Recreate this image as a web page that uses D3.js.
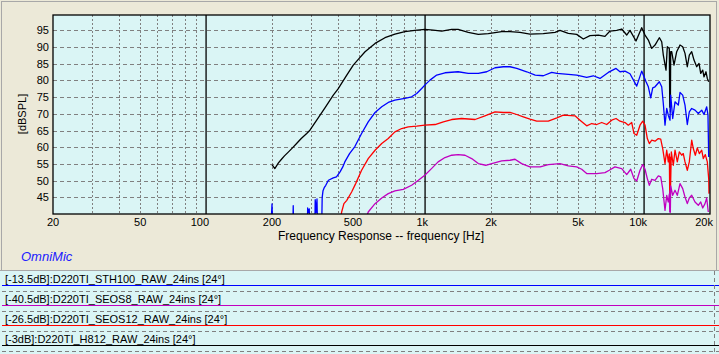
<!DOCTYPE html>
<html>
<head>
<meta charset="utf-8">
<script src="https://cdn.jsdelivr.net/npm/d3@7"></script>
<style>
  body { margin: 0; background: #ECE9D8; }
  svg { display: block; font-family: "Liberation Sans", Arial, sans-serif; }
  .tick-label { font-size: 11px; fill: #000; }
  .legend-text { font-size: 11px; fill: #000; }
</style>
</head>
<body>
<div id="chart"></div>
<script>

  // frequency response data, [Hz, dBSPL]
  var h812 = [
    [200,54.8],[206,53.6],[214,55.3],[221,56.4],[228,57.4],[238,58.6],[248,59.8],[259,61.1],[272,62.6],[288,64.1],
    [298,65.1],[320,68.1],[349,71.8],[381,75.6],[400,77.4],[439,81.6],[470,84.6],[500,86.6],[532,88.6],[591,91.1],
    [656,92.8],[728,93.9],[809,94.6],[898,95.0],[997,95.3],[1090,95.1],[1191,94.8],[1323,95.3],[1415,95.3],[1575,94.4],
    [1750,93.8],[1944,94.0],[2238,94.6],[2443,94.6],[2713,94.4],[3013,93.9],[3466,94.0],[3920,94.4],[4130,95.0],[4508,94.1],
    [4925,93.8],[5279,92.4],[5662,93.4],[6181,93.6],[6630,93.2],[6988,94.8],[7499,95.0],[7904,95.4],[8331,93.6],[8624,95.0],
    [9188,91.8],[9754,95.8],[10100,93.6],[10458,92.1],[10838,89.6],[11220,90.6],[11738,92.8],[12038,91.6],[12242,87.6],[12594,83.1],
    [12766,90.1],[13040,89.6],[13100,72],[13136,88],[13180,70.6],[13230,88.6],[13372,88.6],[13698,84.6],[14092,88.6],[14592,90.6],
    [15010,90.1],[15378,88.1],[15754,84.1],[16090,87.6],[16500,88.6],[16904,86.1],[17392,84.1],[17820,85.1],[18140,82.1],[18526,83.1],
    [18780,81.1],[19176,82.6],[19442,80.6],[19728,79.6]
  ];

  var sth100 = [
    [196,30],[200,43],[203,30],[248,30],[250,42.5],[252,30],[289,30],[291,41.8],[293,40.5],[296,41.5],
    [298,30],[313,30],[315,44.3],[318,40.5],[321,44.5],[324,30],[336,30],[339,45],[342,47],[347,48],
    [352,48.6],[362,50.1],[381,50.8],[394,51.1],[409,52.6],[421,54.1],[430,55.6],[452,58.1],[478,60.2],[513,64.1],
    [550,67.6],[591,70.4],[634,72.1],[679,73.4],[728,74.1],[809,74.6],[868,75.1],[916,76.1],[965,77.6],[997,78.6],
    [1053,80.1],[1130,81.6],[1233,82.3],[1415,82.6],[1575,82.1],[1750,82.1],[1912,82.6],[2087,83.8],[2277,84.1],[2443,84.1],
    [2622,83.6],[2911,82.6],[3184,81.6],[3466,81.4],[3786,82.4],[4000,82.1],[4508,81.8],[4925,81.6],[5470,80.9],[5860,81.4],
    [6290,80.6],[6864,82.4],[7446,83.6],[7764,82.6],[8184,82.8],[8624,82.0],[9256,78.3],[9754,82.8],[10208,79.6],[10458,78.1],
    [10724,74.8],[10952,77.8],[11220,78.1],[11738,79.6],[12038,78.1],[12242,73.1],[12462,66.6],[12688,71.6],[12902,69.6],[13136,68.1],
    [13230,75.6],[13512,68.6],[13844,73.6],[14334,72.6],[14592,76.4],[15010,75.6],[15378,72.6],[15754,66.8],[16090,70.6],[16500,71.6],
    [17084,71.1],[17688,70.1],[18332,71.1],[18780,69.8],[19318,72.1],[19580,69.6],[19728,57.1]
  ];

  var seos12 = [
    [405,36],[416,40.6],[426,43.1],[439,44.1],[462,46.6],[482,49.1],[513,53.1],[550,56.6],[591,59.1],[634,61.1],
    [679,62.6],[728,64.6],[782,65.6],[838,66.1],[916,66.3],[997,66.6],[1111,66.8],[1212,67.6],[1323,68.3],[1468,68.6],
    [1691,68.3],[1876,69.4],[2087,70.6],[2277,70.4],[2443,70.4],[2622,69.8],[2810,69.1],[3013,68.4],[3234,67.8],[3652,67.8],
    [4000,68.8],[4276,69.6],[4838,69.4],[5098,68.1],[5470,66.4],[5768,67.1],[6078,66.8],[6406,67.4],[6752,66.8],[7116,68.1],
    [7446,68.6],[7764,67.8],[8184,67.4],[8472,66.6],[8782,67.4],[8996,64.1],[9256,63.6],[9582,66.6],[9858,67.8],[10100,66.6],
    [10348,62.6],[10568,61.1],[10838,62.1],[11220,61.8],[11616,62.6],[11912,62.4],[12164,59.6],[12462,55.1],[12688,59.1],[12902,55.6],
    [13040,58],[13100,44.6],[13136,57],[13180,45],[13316,58.6],[13598,54.6],[13844,59.1],[14184,55.6],[14484,58.6],[14856,57.6],
    [15100,58.1],[15378,55.6],[15754,53.1],[16090,55.6],[16500,62.1],[16780,59.6],[17138,57.6],[17500,59.8],[17874,58.1],[18332,59.1],
    [18642,56.6],[19036,57.8],[19442,55.6],[19728,50.6],[19790,46.1]
  ];

  var seos8 = [
    [535,38],[550,40.6],[591,43.1],[634,44.8],[679,46.1],[728,46.9],[795,47.4],[868,48.6],[932,50.1],[997,51.6],
    [1070,53.6],[1147,55.6],[1233,56.9],[1323,57.6],[1415,57.8],[1522,57.6],[1632,56.6],[1750,55.1],[1893,54.6],[2016,55.1],
    [2238,55.9],[2443,56.1],[2575,56.4],[2760,55.1],[3013,54.1],[3355,54.1],[3652,54.8],[4130,55.1],[4508,54.4],[4925,54.1],
    [5190,53.4],[5470,52.1],[6078,52.1],[6630,52.4],[6935,53.1],[7360,54.1],[7904,53.6],[8332,51.8],[8690,53.4],[8996,50.6],
    [9256,49.9],[9582,53.1],[9858,54.8],[10100,53.4],[10348,50.6],[10568,48.6],[10838,50.4],[11220,50.1],[11616,51.4],[11912,51.1],
    [12164,47.6],[12462,41.1],[12688,45.6],[12902,43.6],[13040,46],[13100,40.6],[13136,47],[13180,40.5],[13230,48.4],[13512,45.6],
    [13844,47.1],[14184,45.6],[14592,49.1],[15010,47.6],[15378,45.1],[15754,43.1],[16090,44.8],[16500,45.6],[17084,43.6],[17688,42.6],
    [18140,43.6],[18526,41.8],[18978,43.1],[19318,44.8],[19644,40.6]
  ];

  var yTicks = [45, 50, 55, 60, 65, 70, 75, 80, 85, 90, 95];
  var xTicks = [20, 50, 100, 200, 500, 1000, 2000, 5000, 10000, 20000];
  var xTickLabels = ['20', '50', '100', '200', '500', '1k', '2k', '5k', '10k', '20k'];
  var majorLines = [100, 1000, 10000];

  var legendNames = [
    '[-13.5dB]:D220TI_STH100_RAW_24ins [24°]',
    '[-40.5dB]:D220TI_SEOS8_RAW_24ins [24°]',
    '[-26.5dB]:D220TI_SEOS12_RAW_24ins [24°]',
    '[-3dB]:D220TI_H812_RAW_24ins [24°]'
  ];
  var legendData = [sth100, seos8, seos12, h812];


  var settings = {
    width: 719,
    height: 354,
    plot: { left: 53, right: 710, top: 15, bottom: 214 },
    colors: ['#0000ff', '#c000c0', '#ff0000', '#000000'],
    bg: '#ECE9D8',
    plotBg: '#DAF5F5',
    grid: '#808080'
  };

  drawChart();

  function drawChart() {
    var p = settings.plot;

    var chart = d3.select('#chart')
      .append('svg')
      .attr('width', settings.width)
      .attr('height', settings.height);

    chart.append('rect')
      .attr('width', settings.width)
      .attr('height', settings.height)
      .style('fill', settings.bg);

    // window frame
    chart.append('rect')
      .attr('x', 1.5).attr('y', 1.5)
      .attr('width', 715).attr('height', 269)
      .style('fill', 'none')
      .style('stroke', '#a8a8a8');

    var x = d3.scaleLog().domain([20, 20000]).range([p.left, p.right]);
    var y = d3.scaleLinear().domain([40, 99.6]).range([p.bottom, p.top]);

    chart.append('rect')
      .attr('x', p.left).attr('y', p.top)
      .attr('width', p.right - p.left).attr('height', p.bottom - p.top)
      .style('fill', settings.plotBg);

    // minor vertical grid
    var minor = [];
    [10, 100, 1000, 10000].forEach(function (dec) {
      for (var k = 1; k < 10; k++) {
        var f = dec * k;
        if (f > 20 && f < 20000 && majorLines.indexOf(f) < 0) minor.push(f);
      }
    });

    chart.append('g').selectAll('line')
      .data(minor)
      .enter().append('line')
      .attr('x1', function (d) { return Math.round(x(d)) + 0.5; })
      .attr('x2', function (d) { return Math.round(x(d)) + 0.5; })
      .attr('y1', p.top).attr('y2', p.bottom)
      .style('stroke', settings.grid)
      .style('stroke-dasharray', '2,2');

    chart.append('g').selectAll('line')
      .data(yTicks)
      .enter().append('line')
      .attr('x1', p.left).attr('x2', p.right)
      .attr('y1', function (d) { return Math.round(y(d)) + 0.5; })
      .attr('y2', function (d) { return Math.round(y(d)) + 0.5; })
      .style('stroke', settings.grid)
      .style('stroke-dasharray', '4,3');

    chart.append('g').selectAll('line')
      .data(majorLines)
      .enter().append('line')
      .attr('x1', function (d) { return x(d); })
      .attr('x2', function (d) { return x(d); })
      .attr('y1', p.top).attr('y2', p.bottom)
      .style('stroke', '#000')
      .style('stroke-width', 1.3);

    // curves
    chart.append('clipPath').attr('id', 'plot-clip')
      .append('rect')
      .attr('x', p.left).attr('y', p.top)
      .attr('width', p.right - p.left).attr('height', p.bottom - p.top);

    var line = d3.line()
      .x(function (d) { return x(d[0]); })
      .y(function (d) { return y(d[1]); });

    var drawOrder = [3, 0, 2, 1];
    chart.append('g')
      .attr('clip-path', 'url(#plot-clip)')
      .selectAll('path')
      .data(drawOrder)
      .enter().append('path')
      .attr('d', function (i) { return line(legendData[i]); })
      .style('fill', 'none')
      .style('stroke', function (i) { return settings.colors[i]; })
      .style('stroke-width', 1.3)
      .style('stroke-linejoin', 'round');

    chart.append('rect')
      .attr('x', p.left).attr('y', p.top)
      .attr('width', p.right - p.left).attr('height', p.bottom - p.top)
      .style('fill', 'none')
      .style('stroke', '#000')
      .style('stroke-width', 1.3);

    // tick labels
    chart.append('g').selectAll('text')
      .data(yTicks)
      .enter().append('text')
      .classed('tick-label', true)
      .attr('x', p.left - 4)
      .attr('y', function (d) { return y(d) + 4; })
      .attr('text-anchor', 'end')
      .text(function (d) { return d; });

    var endAnchored = [100, 500, 1000, 10000, 20000];
    chart.append('g').selectAll('text')
      .data(xTicks)
      .enter().append('text')
      .classed('tick-label', true)
      .attr('x', function (d) { return endAnchored.indexOf(d) >= 0 ? x(d) + 3 : x(d); })
      .attr('y', p.bottom + 12)
      .attr('text-anchor', function (d) { return endAnchored.indexOf(d) >= 0 ? 'end' : 'middle'; })
      .text(function (d, i) { return xTickLabels[i]; });

    chart.append('text')
      .attr('x', 381).attr('y', 240)
      .attr('text-anchor', 'middle')
      .style('font-size', '12px')
      .text('Frequency Response -- frequency [Hz]');

    chart.append('text')
      .attr('transform', 'translate(26,114) rotate(-90)')
      .attr('text-anchor', 'middle')
      .style('font-size', '11px')
      .text('[dBSPL]');

    chart.append('text')
      .attr('x', 21).attr('y', 261)
      .style('font-size', '13px')
      .style('font-style', 'italic')
      .style('fill', '#2020ff')
      .text('OmniMic');

    // legend
    var legend = chart.append('g');
    legend.append('rect')
      .attr('x', 0).attr('y', 271)
      .attr('width', settings.width).attr('height', settings.height - 271)
      .style('fill', settings.plotBg);
    legend.append('line')
      .attr('x1', 0).attr('x2', settings.width)
      .attr('y1', 270.5).attr('y2', 270.5)
      .style('stroke', '#a8a8a8');

    var rows = legend.selectAll('.row')
      .data(legendNames)
      .enter().append('g')
      .classed('row', true)
      .attr('transform', function (d, i) { return 'translate(0,' + (271 + i * 20) + ')'; });

    rows.append('text')
      .classed('legend-text', true)
      .attr('x', 5).attr('y', 11.5)
      .text(function (d) { return d; });

    rows.append('line')
      .attr('x1', 2).attr('x2', settings.width)
      .attr('y1', 14.5).attr('y2', 14.5)
      .style('stroke', function (d, i) { return settings.colors[i]; });

    rows.append('line')
      .attr('x1', 2).attr('x2', settings.width)
      .attr('y1', 20.5).attr('y2', 20.5)
      .style('stroke', settings.grid)
      .style('stroke-dasharray', '4,3');

    legend.append('line')
      .attr('x1', 714.5).attr('x2', 714.5)
      .attr('y1', 271).attr('y2', settings.height)
      .style('stroke', settings.grid)
      .style('stroke-dasharray', '4,3');
  }

</script>
</body>
</html>
